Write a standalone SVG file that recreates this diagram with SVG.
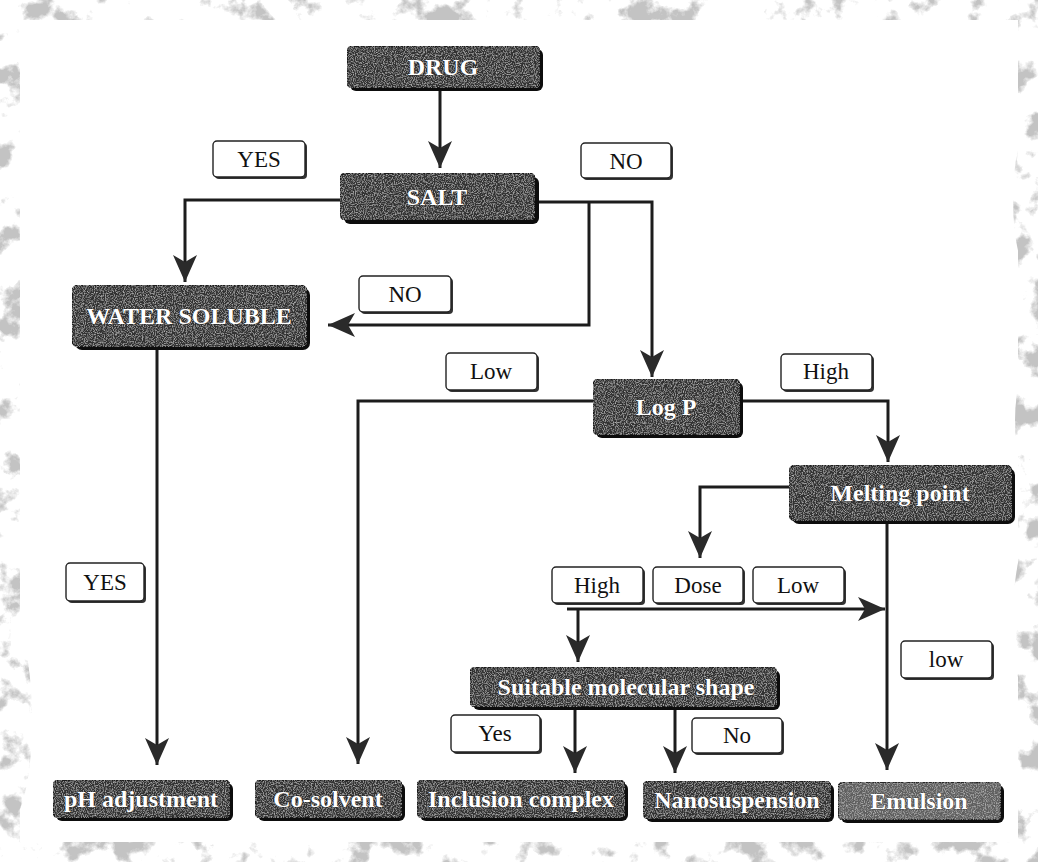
<svg xmlns="http://www.w3.org/2000/svg" width="1038" height="862" viewBox="0 0 1038 862">
<style>
.node rect.sh{fill:#0d0d0d}
.node rect.bx{fill:#333;stroke:#151515;stroke-width:1.5;filter:url(#tex)}
.node text{font-family:"Liberation Serif","Times New Roman",serif;font-weight:bold;font-size:24px;fill:#fff;text-anchor:middle;stroke:#222;stroke-width:0.6;paint-order:stroke}
.lbl rect.sh{fill:#333}
.lbl rect.bx{fill:#fff;stroke:#222;stroke-width:1.4}
.lbl text{font-family:"Liberation Serif","Times New Roman",serif;font-size:23px;fill:#111;text-anchor:middle}
.conn path{fill:none;stroke:#1c1c1c;stroke-width:3;marker-end:url(#arr)}
</style>
<defs>
<marker id="arr" viewBox="-28 -13 30 26" refX="0" refY="0" markerWidth="30" markerHeight="26" markerUnits="userSpaceOnUse" orient="auto">
<path d="M0,0 L-27,-12 L-20,0 L-27,12 Z" fill="#2a2a2a"/>
</marker>
<filter id="tex" x="0" y="0" width="1" height="1">
<feTurbulence type="fractalNoise" baseFrequency="0.9" numOctaves="2" seed="3" result="n"/>
<feColorMatrix in="n" type="matrix" values="0 0 0 0 0.75  0 0 0 0 0.75  0 0 0 0 0.75  1.4 0 0 0 -0.62" result="w"/>
<feComposite in="w" in2="SourceAlpha" operator="in" result="ws"/>
<feMerge><feMergeNode in="SourceGraphic"/><feMergeNode in="ws"/></feMerge>
</filter>
<filter id="grunge" x="-5%" y="-5%" width="110%" height="110%">
<feTurbulence type="fractalNoise" baseFrequency="0.035" numOctaves="5" seed="11" result="n"/>
<feColorMatrix in="n" type="matrix" values="0 0 0 0 0.4  0 0 0 0 0.4  0 0 0 0 0.4  -7 0 0 0 3.2" result="m"/>
<feComposite in="m" in2="SourceAlpha" operator="in"/>
</filter>
</defs>
<rect width="1038" height="862" fill="#fff"/>
<g id="grunge-frame" filter="url(#grunge)" opacity="0.7">
<rect x="-5" y="-5" width="1048" height="872" fill="none" stroke="#000" stroke-width="50"/>
<ellipse cx="1035" cy="200" rx="22" ry="80" fill="#000"/>
<ellipse cx="1035" cy="420" rx="20" ry="60" fill="#000"/>
<ellipse cx="1035" cy="620" rx="22" ry="90" fill="#000"/>
<ellipse cx="10" cy="720" rx="22" ry="100" fill="#000"/>
</g>

<g id="connectors" class="conn">
<path d="M440,90 V168"/>
<path d="M340,200 H185 V282"/>
<path d="M535,202 H652 V377"/>
<path d="M589,202 V325 H328"/>
<path d="M157,348 V765"/>
<path d="M593,401 H358 V764"/>
<path d="M740,401 H888 V462"/>
<path d="M789,487 H700 V558"/>
<path d="M887,522 V770"/>
<path d="M567,609 H885"/>
<path d="M578,609 V662"/>
<path d="M575,707 V773"/>
<path d="M675,707 V773"/>
</g>

<g id="node-drug" class="node"><rect class="sh" x="350" y="49" width="193" height="42" rx="6"/><rect class="bx" x="347" y="46" width="193" height="42" rx="6"/><text x="443" y="75">DRUG</text></g>
<g id="node-salt" class="node"><rect class="sh" x="344" y="177" width="195" height="47" rx="6"/><rect class="bx" x="340" y="173" width="195" height="47" rx="6"/><text x="437" y="205">SALT</text></g>
<g id="node-water" class="node"><rect class="sh" x="75" y="288" width="235" height="62" rx="7"/><rect class="bx" x="72" y="285" width="235" height="62" rx="7"/><text x="189" y="324">WATER SOLUBLE</text></g>
<g id="node-logp" class="node"><rect class="sh" x="596" y="382" width="147" height="56" rx="6"/><rect class="bx" x="593" y="379" width="147" height="56" rx="6"/><text x="666" y="415">Log P</text></g>
<g id="node-melting" class="node"><rect class="sh" x="792" y="468" width="223" height="56" rx="7"/><rect class="bx" x="789" y="465" width="223" height="56" rx="7"/><text x="900" y="501">Melting point</text></g>
<g id="node-shape" class="node"><rect class="sh" x="473" y="670" width="307" height="40" rx="6"/><rect class="bx" x="470" y="667" width="307" height="40" rx="6"/><text x="626" y="695">Suitable molecular shape</text></g>
<g id="node-ph" class="node"><rect class="sh" x="56" y="783" width="177" height="38" rx="6"/><rect class="bx" x="53" y="780" width="177" height="38" rx="6"/><text x="141" y="807">pH adjustment</text></g>
<g id="node-cosolvent" class="node"><rect class="sh" x="258" y="783" width="147" height="38" rx="6"/><rect class="bx" x="255" y="780" width="147" height="38" rx="6"/><text x="328" y="807">Co-solvent</text></g>
<g id="node-inclusion" class="node"><rect class="sh" x="420" y="783" width="208" height="38" rx="6"/><rect class="bx" x="417" y="780" width="208" height="38" rx="6"/><text x="521" y="807">Inclusion complex</text></g>
<g id="node-nano" class="node"><rect class="sh" x="646" y="784" width="188" height="38" rx="6"/><rect class="bx" x="643" y="781" width="188" height="38" rx="6"/><text x="737" y="808">Nanosuspension</text></g>
<g id="node-emulsion" class="node"><rect class="sh" x="841" y="785" width="163" height="38" rx="6"/><rect class="bx" x="838" y="782" width="163" height="38" rx="6" style="fill:#5e5e5e"/><text x="919" y="809">Emulsion</text></g>

<g id="label-yes-top" class="lbl"><rect class="sh" x="215" y="143" width="92" height="36" rx="4"/><rect class="bx" x="213" y="141" width="92" height="36" rx="4"/><text x="259" y="167">YES</text></g>
<g id="label-no-top" class="lbl"><rect class="sh" x="583" y="145" width="90" height="35" rx="4"/><rect class="bx" x="581" y="143" width="90" height="35" rx="4"/><text x="626" y="169">NO</text></g>
<g id="label-no-mid" class="lbl"><rect class="sh" x="361" y="278" width="92" height="36" rx="4"/><rect class="bx" x="359" y="276" width="92" height="36" rx="4"/><text x="405" y="302">NO</text></g>
<g id="label-low" class="lbl"><rect class="sh" x="448" y="355" width="91" height="37" rx="4"/><rect class="bx" x="446" y="353" width="91" height="37" rx="4"/><text x="491" y="379">Low</text></g>
<g id="label-high" class="lbl"><rect class="sh" x="783" y="356" width="91" height="36" rx="4"/><rect class="bx" x="781" y="354" width="91" height="36" rx="4"/><text x="826" y="379">High</text></g>
<g id="label-yes-left" class="lbl"><rect class="sh" x="68" y="565" width="78" height="38" rx="4"/><rect class="bx" x="66" y="563" width="78" height="38" rx="4"/><text x="105" y="590">YES</text></g>
<g id="label-high-dose" class="lbl"><rect class="sh" x="554" y="569" width="91" height="36" rx="4"/><rect class="bx" x="552" y="567" width="91" height="36" rx="4"/><text x="597" y="593">High</text></g>
<g id="label-dose" class="lbl"><rect class="sh" x="655" y="569" width="90" height="36" rx="4"/><rect class="bx" x="653" y="567" width="90" height="36" rx="4"/><text x="698" y="593">Dose</text></g>
<g id="label-low-dose" class="lbl"><rect class="sh" x="755" y="569" width="91" height="36" rx="4"/><rect class="bx" x="753" y="567" width="91" height="36" rx="4"/><text x="798" y="593">Low</text></g>
<g id="label-low-right" class="lbl"><rect class="sh" x="903" y="643" width="91" height="37" rx="4"/><rect class="bx" x="901" y="641" width="91" height="37" rx="4"/><text x="946" y="667">low</text></g>
<g id="label-yes-bottom" class="lbl"><rect class="sh" x="453" y="717" width="89" height="37" rx="4"/><rect class="bx" x="451" y="715" width="89" height="37" rx="4"/><text x="495" y="741">Yes</text></g>
<g id="label-no-bottom" class="lbl"><rect class="sh" x="694" y="720" width="90" height="35" rx="4"/><rect class="bx" x="692" y="718" width="90" height="35" rx="4"/><text x="737" y="743">No</text></g>
</svg>
